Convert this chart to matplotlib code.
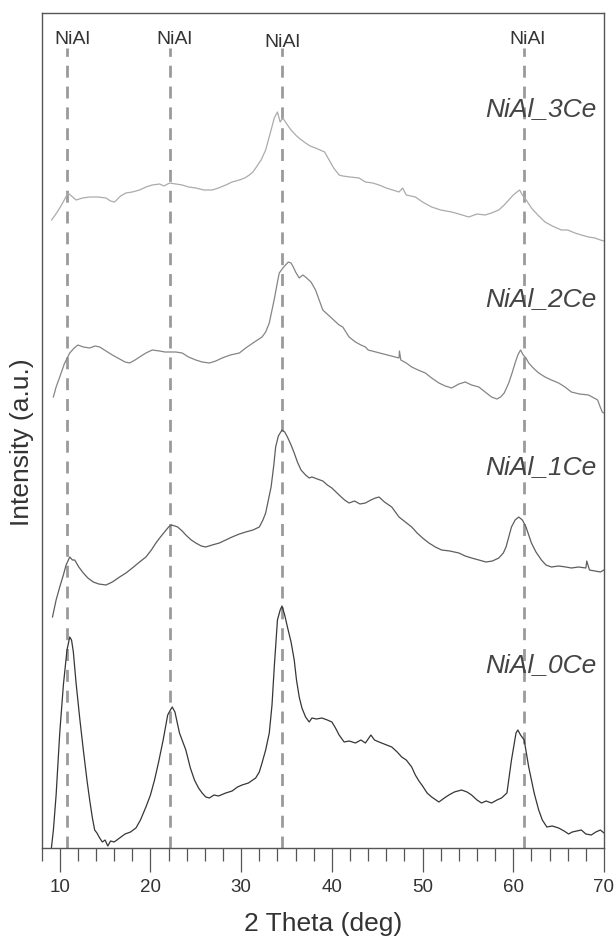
import matplotlib
matplotlib.use('Agg')
import matplotlib.pyplot as plt
from matplotlib.ticker import MultipleLocator

plt.rcParams['font.family'] = ['Liberation Sans', 'DejaVu Sans']

# XRD patterns, intensity in a.u. (already stacked as in the figure)
tt_0ce = [9.08, 9.3, 9.6, 10.0, 10.4, 10.8, 11.1, 11.3, 11.5, 11.8, 12.2, 12.6, 13.0, 13.3, 13.6,
          13.85, 14.1, 14.4, 14.7, 15.0, 15.3, 15.6, 16.0, 16.6, 17.2, 17.8, 18.4, 18.9, 19.5, 20.0,
          20.45, 20.9, 21.4, 21.9, 22.2, 22.4, 22.7, 23.2, 23.9, 24.4, 24.85, 25.3, 25.7, 26.1, 26.5,
          27.0, 27.5, 28.3, 29.0, 29.6, 30.1, 30.8, 31.6, 32.0, 32.3, 32.7, 33.1, 33.4, 33.65, 34.0,
          34.3, 34.5, 34.8, 35.1, 35.5, 35.85, 36.1, 36.4, 36.7, 37.1, 37.5, 37.8, 38.3, 38.9, 39.5,
          40.0, 40.4, 40.8, 41.35, 41.9, 42.6, 43.2, 43.7, 44.3, 44.7, 45.2, 46.6, 47.2, 47.7, 48.2,
          48.8, 49.2, 49.6, 50.0, 50.5, 51.0, 51.8, 52.4, 52.9, 53.5, 54.3, 54.9, 55.4, 56.0, 56.5,
          57.0, 57.6, 58.2, 58.7, 59.3, 59.8, 60.3, 60.5, 60.8, 61.2, 61.7, 62.3, 62.8, 63.2, 63.7,
          64.3, 65.0, 65.6, 66.1, 66.5, 67.5, 68.0, 68.6, 69.1, 69.6, 70.0]
int_0ce = [0, 18, 53, 115, 163, 198, 211, 208, 196, 165, 130, 98, 68, 48, 30,
           18, 15, 10, 6, 8, 2, 7, 6, 10, 14, 16, 20, 28, 41, 53,
           68, 86, 108, 133, 138, 141, 136, 115, 98, 80, 68, 60, 55, 51, 50,
           53, 52, 55, 57, 61, 63, 65, 70, 76, 85, 98, 115, 143, 181, 228,
           238, 242, 233, 221, 206, 188, 168, 151, 140, 131, 126, 130, 129, 130, 128,
           126, 120, 113, 106, 107, 105, 108, 105, 113, 108, 106, 101, 96, 91, 88,
           81, 73, 67, 62, 55, 51, 46, 50, 53, 56, 58, 56, 53, 48, 45,
           47, 45, 48, 50, 55, 88, 115, 118, 113, 108, 81, 55, 38, 28, 21,
           22, 20, 17, 14, 16, 18, 14, 13, 16, 18, 15]

tt_1ce = [9.2, 9.6, 10.0, 10.4, 10.7, 11.1, 11.4, 11.65, 12.1, 12.6, 13.1, 13.7, 14.3, 15.1, 15.8,
          16.6, 17.3, 18.0, 18.8, 19.5, 20.1, 20.6, 21.1, 21.55, 22.0, 22.3, 22.7, 23.0, 23.5, 23.9,
          24.5, 25.0, 25.6, 26.1, 26.8, 27.6, 28.3, 29.0, 29.8, 30.5, 31.3, 32.0, 32.4, 32.7, 33.0,
          33.3, 33.6, 33.8, 34.1, 34.5, 34.8, 35.1, 35.5, 35.85, 36.2, 36.6, 37.1, 37.5, 37.8, 38.4,
          39.0, 39.5, 40.0, 40.8, 41.4, 41.9, 42.5, 43.1, 43.7, 44.3, 44.8, 45.2, 45.8, 46.6, 47.0,
          47.4, 48.1, 48.8, 49.4, 50.0, 50.7, 51.4, 52.1, 53.0, 54.0, 54.7, 55.4, 56.2, 57.0, 57.7,
          58.4, 58.9, 59.2, 59.5, 59.8, 60.2, 60.6, 61.0, 61.4, 61.7, 62.0, 62.5, 63.1, 63.6, 64.2,
          65.0, 65.8, 66.4, 67.2, 68.0, 68.1, 68.4, 69.0, 69.6, 70.0]
int_1ce = [231, 248, 261, 273, 283, 291, 288, 288, 281, 275, 270, 266, 264, 263, 266,
           271, 275, 280, 286, 291, 298, 305, 311, 316, 321, 323, 322, 321, 317, 313,
           308, 305, 302, 301, 303, 305, 308, 311, 314, 316, 318, 321, 328, 335, 348,
           361, 383, 401, 412, 418, 416, 411, 403, 395, 386, 378, 373, 370, 371, 369,
           367, 363, 360, 353, 348, 345, 347, 344, 345, 348, 350, 351, 346, 341, 336,
           331, 326, 321, 315, 310, 305, 301, 298, 297, 295, 292, 290, 288, 286, 287,
           290, 295, 301, 311, 321, 328, 331, 328, 321, 313, 305, 296, 288, 283, 281,
           282, 281, 280, 281, 280, 287, 278, 277, 276, 278]

tt_2ce = [9.3, 9.6, 10.0, 10.5, 11.1, 11.6, 12.0, 12.6, 13.3, 13.9, 14.4, 15.1, 15.8, 16.6, 17.2,
          17.7, 18.3, 18.8, 19.5, 20.2, 21.0, 21.6, 22.1, 22.8, 23.5, 24.2, 25.0, 25.7, 26.5, 27.2,
          27.9, 28.8, 29.8, 30.5, 31.3, 31.8, 32.3, 32.7, 33.1, 33.4, 33.7, 34.0, 34.2, 34.6, 34.9,
          35.2, 35.5, 35.8, 36.0, 36.4, 36.8, 37.1, 37.7, 38.2, 38.6, 39.0, 39.6, 40.2, 40.8, 41.2,
          41.9, 42.6, 43.2, 43.7, 44.0, 47.4, 47.45, 47.6, 48.2, 48.8, 49.5, 50.3, 51.0, 51.8, 52.5,
          53.2, 54.0, 54.7, 55.4, 56.2, 56.9, 57.6, 58.2, 58.6, 59.0, 59.5, 59.9, 60.2, 60.5, 60.8,
          61.1, 61.4, 61.7, 62.2, 62.8, 63.5, 64.2, 65.0, 65.7, 66.4, 67.3, 68.3, 68.9, 69.3, 69.5,
          69.8, 70.0]
int_2ce = [451, 461, 471, 484, 495, 500, 503, 501, 500, 502, 501, 497, 493, 489, 486,
           485, 488, 491, 495, 498, 497, 496, 496, 496, 495, 491, 488, 486, 485, 487,
           490, 493, 495, 500, 505, 508, 511, 516, 525, 538, 551, 566, 575, 580, 583,
           586, 585, 580, 576, 570, 573, 571, 566, 558, 548, 538, 533, 528, 523, 521,
           511, 506, 503, 501, 498, 490, 497, 488, 485, 481, 478, 475, 470, 465, 462,
           460, 464, 466, 463, 461, 456, 451, 449, 451, 455, 465, 476, 485, 493, 498,
           493, 490, 485, 480, 475, 471, 468, 465, 461, 456, 454, 453, 450, 448, 443,
           436, 435]

tt_3ce = [9.1, 9.5, 10.0, 10.5, 10.9, 11.3, 11.8, 12.5, 13.3, 14.2, 15.1, 15.6, 16.05, 16.7, 17.3,
          18.0, 18.8, 19.5, 20.2, 21.0, 21.5, 22.1, 22.8, 23.5, 24.2, 25.0, 25.9, 26.8, 27.5, 28.3,
          29.0, 29.8, 30.4, 30.9, 31.3, 31.6, 32.2, 32.7, 33.0, 33.3, 33.65, 34.0, 34.3, 34.6, 35.1,
          35.5, 36.0, 36.5, 37.1, 37.6, 38.2, 38.7, 39.2, 39.7, 40.2, 40.8, 41.2, 42.0, 43.0, 43.7,
          44.5, 45.2, 46.0, 46.7, 47.4, 47.8, 48.2, 49.2, 50.0, 51.0, 52.0, 53.2, 54.0, 55.1, 56.0,
          56.9, 57.6, 58.4, 59.0, 59.5, 60.0, 60.4, 60.7, 61.0, 61.5, 62.0, 62.7, 63.5, 64.3, 65.3,
          66.0, 66.8, 67.5, 68.3, 69.0, 69.6, 70.0]
int_3ce = [628, 633, 640, 648, 655, 652, 648, 650, 651, 651, 650, 647, 646, 652, 655,
           656, 658, 661, 663, 664, 662, 665, 664, 663, 661, 660, 658, 658, 660, 663,
           666, 668, 670, 673, 676, 680, 688, 698, 708, 718, 730, 736, 726, 730, 723,
           718, 713, 709, 705, 702, 700, 698, 696, 688, 680, 673, 672, 671, 670, 666,
           665, 663, 660, 658, 656, 660, 653, 651, 646, 641, 638, 636, 634, 631, 634,
           633, 635, 638, 643, 648, 653, 656, 658, 653, 647, 640, 633, 626, 622, 618,
           618, 615, 613, 611, 610, 608, 607]

samples = ['NiAl_0Ce', 'NiAl_1Ce', 'NiAl_2Ce', 'NiAl_3Ce']
two_theta = [tt_0ce, tt_1ce, tt_2ce, tt_3ce]
intensity = [int_0ce, int_1ce, int_2ce, int_3ce]
colors = ['#363636', '#5e5e5e', '#858585', '#ababab']
label_y = [183, 381, 549, 739]   # label heights in a.u.

# NiAl reflections
nial_peaks = [10.8, 22.1, 34.5, 61.2]
nial_label_x = [11.4, 22.6, 34.5, 61.6]

fig = plt.figure(figsize=(6.15, 9.39), dpi=100)
ax = fig.add_axes([41.6 / 615, 1 - 848 / 939, 562.4 / 615, 835.3 / 939])

for x0 in nial_peaks:
    ax.axvline(x0, ymin=0, ymax=0.958, color='#9a9a9a', lw=2.0,
               dashes=(4.3, 3.2), zorder=1)

for tt, inten, c in zip(two_theta, intensity, colors):
    ax.plot(tt, inten, color=c, lw=0.9, zorder=2)

for name, yl in zip(samples, label_y):
    ax.text(69.2, yl, name, fontsize=19, style='italic', color='#444444',
            ha='right', va='center', zorder=3)

for i, xl in enumerate(nial_label_x):
    yy = 809 if i != 2 else 806
    ax.text(xl, yy, 'NiAl', fontsize=14, color='#333333', ha='center', va='center')

ax.set_xlim(8, 70)
ax.set_ylim(0, 835.3)
ax.set_yticks([])
ax.xaxis.set_major_locator(MultipleLocator(10))
ax.xaxis.set_minor_locator(MultipleLocator(2))
ax.tick_params(axis='x', which='major', length=17, width=0.9, color='#555555',
               labelsize=13.5, labelcolor='#333333', pad=5)
ax.tick_params(axis='x', which='minor', length=9, width=0.9, color='#555555')
for s in ax.spines.values():
    s.set_color('#555555')
    s.set_linewidth(1.0)

fig.text(323 / 615, 1 - 924 / 939, '2 Theta (deg)', fontsize=19, color='#333333',
         ha='center', va='center')
fig.text(22 / 615, 1 - 442 / 939, 'Intensity (a.u.)', fontsize=19, color='#333333',
         rotation=90, ha='center', va='center')

fig.savefig('out.png', dpi=100)
